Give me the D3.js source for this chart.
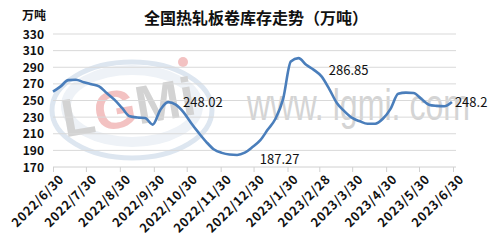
<!DOCTYPE html>
<html lang="zh">
<head>
  <meta charset="UTF-8">
  <title>全国热轧板卷库存走势</title>
  <script src="https://d3js.org/d3.v7.min.js"></script>
  <style>
    body {
      margin: 0;
      background: #fff;
      font-family: "Noto Sans CJK SC", "Noto Sans", sans-serif;
    }
    .grid line { stroke: #d9d9d9; stroke-width: 1; }
    .axis-x path, .axis-x line { stroke: #d0d0d0; }
    .tick-label { font-size: 12px; font-weight: 600; fill: #111; }
    .value-label { font-size: 13px; fill: #111; }
  </style>
</head>
<body>
<div id="chart"></div>
<script>
// weekly inventory, 10k tonnes
const dates = [
  "2022-06-30","2022-07-07","2022-07-14","2022-07-21","2022-07-28","2022-08-04","2022-08-11",
  "2022-08-18","2022-08-25","2022-09-01","2022-09-08","2022-09-15","2022-09-22","2022-09-29",
  "2022-10-06","2022-10-13","2022-10-20","2022-10-27","2022-11-03","2022-11-10","2022-11-17",
  "2022-11-24","2022-12-01","2022-12-08","2022-12-15","2022-12-22","2022-12-29","2023-01-05",
  "2023-01-12","2023-01-19","2023-01-26","2023-02-02","2023-02-09","2023-02-16","2023-02-23",
  "2023-03-02","2023-03-09","2023-03-16","2023-03-23","2023-03-30","2023-04-06","2023-04-13",
  "2023-04-20","2023-04-27","2023-05-04","2023-05-11","2023-05-18","2023-05-25","2023-06-01",
  "2023-06-08","2023-06-15","2023-06-22","2023-06-29"
];
const stock = [
  260.6, 267, 274.5, 275, 272, 269.5, 267,
  259, 251, 241, 231, 229.5, 229, 221,
  239, 248.02, 245, 236, 223, 211, 200,
  191, 187, 185, 184.5, 187.27, 194, 202,
  215, 228, 252, 297, 301, 293, 286.85,
  279, 264, 247, 237, 229, 225, 222,
  222, 228, 240, 258, 259.5, 259, 252,
  245, 243.5, 243, 248.2
];
const tickDates = [
  "2022-06-30","2022-07-30","2022-08-30","2022-09-30","2022-10-30","2022-11-30","2022-12-30",
  "2023-01-30","2023-02-28","2023-03-30","2023-04-30","2023-05-30","2023-06-30"
];
const yTicks = [170, 190, 210, 230, 250, 270, 290, 310, 330];
const labelled = ["2022-10-13", "2022-12-22", "2023-02-23", "2023-06-29"];

const W = 498, H = 246;
const m = { left: 53, right: 455, top: 34, bottom: 167 };

const parse = d3.timeParse("%Y-%m-%d");
const data = dates.map((d, i) => ({ date: parse(d), value: stock[i], key: d }));

const svg = d3.select("#chart").append("svg")
  .attr("width", W).attr("height", H);

const x = d3.scaleTime()
  .domain([parse(tickDates[0]), parse(tickDates[tickDates.length - 1])])
  .range([m.left, m.right - 2]);
const y = d3.scaleLinear().domain([170, 330]).range([m.bottom, m.top]);

// watermark (logo + site)
const wm = svg.append("g");
wm.append("ellipse")
  .attr("cx", 132).attr("cy", 110).attr("rx", 80).attr("ry", 48)
  .attr("fill", "none").attr("stroke", "#dde6f0").attr("stroke-width", 5);
wm.append("ellipse")
  .attr("cx", 132).attr("cy", 106).attr("rx", 66).attr("ry", 36)
  .attr("fill", "none").attr("stroke", "#eef2f7").attr("stroke-width", 10);
const logo = wm.append("text")
  .attr("x", 128).attr("y", 126).attr("text-anchor", "middle")
  .attr("font-family", "Liberation Sans, sans-serif").attr("font-weight", "bold")
  .attr("font-size", 54).attr("fill", "#d3d3d3")
  .attr("transform", "rotate(-10,128,106)");
logo.append("tspan").text("L");
logo.append("tspan").attr("fill", "#f3c2c2").text("G");
logo.append("tspan").text("Mi");
wm.append("circle").attr("cx", 183).attr("cy", 62).attr("r", 5).attr("fill", "#f3c2c2");
wm.append("text")
  .attr("transform", "translate(247,120) scale(0.73,1)")
  .attr("font-family", "Liberation Sans Narrow, Liberation Sans, sans-serif")
  .attr("font-size", 44).attr("fill", "#d4d4d4")
  .text("www. lgmi. com");

// grid
svg.append("g").attr("class", "grid")
  .selectAll("line").data(yTicks.slice(1)).join("line")
  .attr("x1", m.left).attr("x2", m.right + 1)
  .attr("y1", d => y(d)).attr("y2", d => y(d));

// y labels
svg.append("g").selectAll("text").data(yTicks).join("text")
  .attr("class", "tick-label")
  .attr("x", 44).attr("y", d => y(d) + 4.5)
  .attr("text-anchor", "end")
  .text(d => d);

// x axis
const xAxis = d3.axisBottom(x)
  .tickValues(tickDates.map(parse))
  .tickSize(5)
  .tickFormat(d3.timeFormat("%Y/%-m/%-d"));
const gx = svg.append("g").attr("class", "axis-x")
  .attr("transform", `translate(0,${m.bottom})`)
  .call(xAxis);
gx.select(".domain").attr("d", `M${m.left},0H${m.right + 1}`);
gx.selectAll("text")
  .attr("class", "tick-label")
  .attr("text-anchor", "end")
  .attr("transform", "rotate(-45)")
  .attr("dx", "-0.1em").attr("dy", "0.9em")
  .attr("y", 6).attr("x", 0)
  .style("font-family", "Noto Sans CJK SC, Noto Sans, sans-serif")
  .style("font-size", "12.5px")
  .style("letter-spacing", "0.7px");

// line
const line = d3.line().x(d => x(d.date)).y(d => y(d.value)).curve(d3.curveMonotoneX);
svg.append("path").datum(data)
  .attr("fill", "none").attr("stroke", "#4a7ebb").attr("stroke-width", 2.6)
  .attr("stroke-linejoin", "round")
  .attr("d", line);

// value labels
svg.append("g").selectAll("text").data(data.filter(d => labelled.includes(d.key))).join("text")
  .attr("class", "value-label")
  .attr("x", d => x(d.date) + (d.key === "2023-06-29" ? 3 : 15))
  .attr("y", d => y(d.value) + (d.key === "2022-12-22" ? 11 : 5))
  .text(d => d.value);

// titles
svg.append("text")
  .attr("x", 256).attr("y", 24).attr("text-anchor", "middle")
  .attr("font-size", 16).attr("font-weight", "bold").attr("fill", "#111")
  .text("全国热轧板卷库存走势（万吨）");
svg.append("text")
  .attr("x", 22).attr("y", 20)
  .attr("font-size", 12).attr("font-weight", 600).attr("fill", "#111")
  .text("万吨");
</script>
</body>
</html>
